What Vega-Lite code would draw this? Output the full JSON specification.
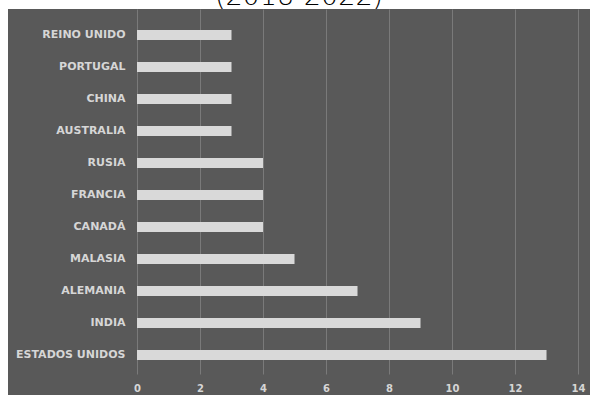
{
  "$schema": "https://vega.github.io/schema/vega-lite/v6.json",
  "width": 582,
  "height": 386,
  "autosize": {"type": "none"},
  "padding": {"left": 8, "top": 9, "right": 0, "bottom": 0},
  "background": "white",
  "title": {
    "text": "(2018-2022)",
    "fontSize": 27,
    "font": "DejaVu Sans",
    "fontWeight": 200,
    "color": "#000000",
    "baseline": "alphabetic",
    "offset": 0,
    "dy": 23,
    "anchor": "middle"
  },
  "config": {"view": {"fill": "#595959", "stroke": null}},
  "data": {
    "values": [
      {"pais": "REINO UNIDO", "valor": 3},
      {"pais": "PORTUGAL", "valor": 3},
      {"pais": "CHINA", "valor": 3},
      {"pais": "AUSTRALIA", "valor": 3},
      {"pais": "RUSIA", "valor": 4},
      {"pais": "FRANCIA", "valor": 4},
      {"pais": "CANADÁ", "valor": 4},
      {"pais": "MALASIA", "valor": 5},
      {"pais": "ALEMANIA", "valor": 7},
      {"pais": "INDIA", "valor": 9},
      {"pais": "ESTADOS UNIDOS", "valor": 13}
    ]
  },
  "mark": {"type": "bar", "color": "#d9d9d9"},
  "encoding": {
    "y": {
      "field": "pais",
      "type": "nominal",
      "sort": ["REINO UNIDO", "PORTUGAL", "CHINA", "AUSTRALIA", "RUSIA", "FRANCIA", "CANADÁ", "MALASIA", "ALEMANIA", "INDIA", "ESTADOS UNIDOS"],
      "scale": {"paddingInner": 0.6875, "paddingOuter": 0.875, "align": 0.375},
      "axis": {
        "title": null,
        "ticks": false,
        "tickSize": 0,
        "domain": false,
        "grid": false,
        "labelPadding": -117,
        "labelColor": "#d6d6d6",
        "labelFont": "DejaVu Sans",
        "labelFontWeight": "bold",
        "labelFontSize": 11
      }
    },
    "x": {
      "field": "valor",
      "type": "quantitative",
      "scale": {"domain": [-4.095, 14.38], "nice": false, "zero": false},
      "axis": {
        "title": null,
        "values": [0, 2, 4, 6, 8, 10, 12, 14],
        "ticks": false,
        "tickSize": 0,
        "domain": false,
        "grid": true,
        "gridColor": "#7a7a7a",
        "gridWidth": 1,
        "gridDash": [0, 21, 500],
        "labelPadding": -12,
        "labelColor": "#d6d6d6",
        "labelFont": "DejaVu Sans",
        "labelFontWeight": "bold",
        "labelFontSize": 10
      }
    }
  }
}
